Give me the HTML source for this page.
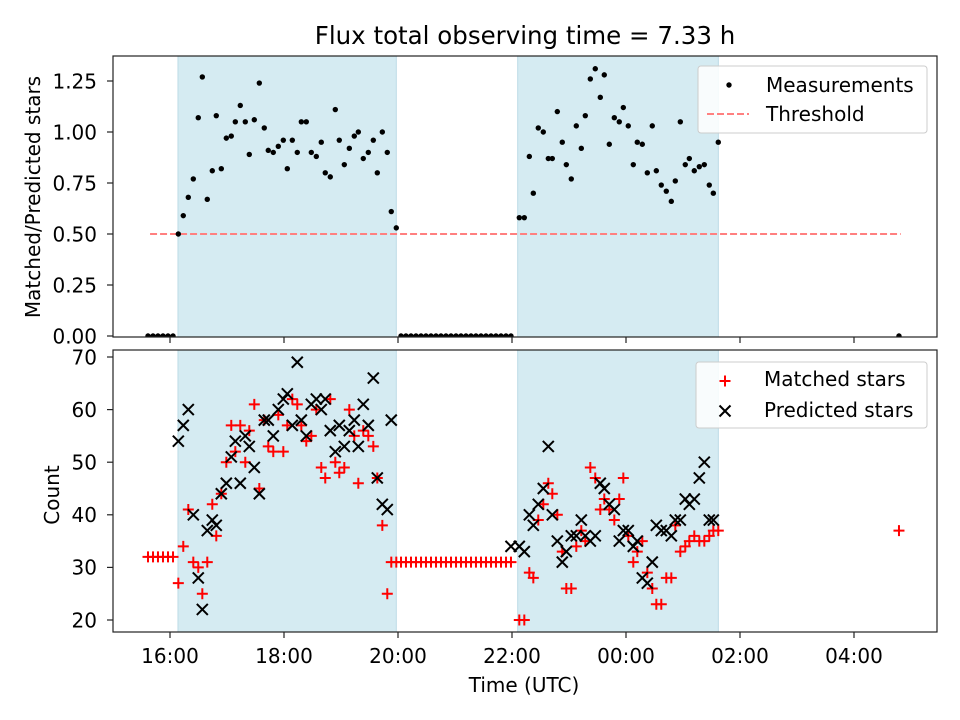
<!DOCTYPE html>
<html><head><meta charset="utf-8"><style>
body{margin:0;background:#fff;}
svg{display:block;font-family:"DejaVu Sans","Liberation Sans",sans-serif;}
</style></head><body>
<svg id="chart" width="960" height="720" viewBox="0 0 960 720" xmlns="http://www.w3.org/2000/svg"></svg>
<script>
// hours after 16:00 UTC
const times = [-0.386,-0.298,-0.211,-0.123,-0.035,0.053,
0.146,0.233,0.321,0.409,0.496,0.567,0.654,0.742,0.812,0.900,0.988,1.075,1.146,1.233,1.321,1.391,1.479,1.567,1.654,1.724,1.812,1.900,1.988,2.058,2.146,2.233,2.304,2.391,2.479,2.567,2.654,2.724,2.812,2.900,2.970,3.058,3.146,3.233,3.304,3.391,3.479,3.567,3.637,3.725,3.812,3.882,3.970,
4.053,4.140,4.228,4.316,4.404,4.491,4.579,4.667,4.754,4.842,4.930,5.018,5.105,5.193,5.281,5.368,5.456,5.544,5.632,5.719,5.807,5.895,5.982,
6.128,6.216,6.304,6.374,6.461,6.549,6.637,6.707,6.795,6.882,6.953,7.040,7.128,7.216,7.286,7.374,7.461,7.549,7.619,7.707,7.795,7.882,7.953,8.040,8.128,8.198,8.286,8.374,8.461,8.532,8.619,8.707,8.795,8.865,8.953,9.040,9.111,9.198,9.286,9.374,9.461,9.532,9.619,
12.789];
const ratio = [0,0,0,0,0,0,
0.50,0.59,0.68,0.77,1.07,1.27,0.67,0.81,1.08,0.82,0.97,0.98,1.05,1.13,1.05,0.89,1.06,1.24,1.02,0.91,0.90,0.93,0.96,0.82,0.96,0.90,1.05,1.05,0.90,0.88,0.95,0.80,0.78,1.11,0.96,0.84,0.92,0.98,1.00,0.87,0.90,0.96,0.80,1.00,0.90,0.61,0.53,
0,0,0,0,0,0,0,0,0,0,0,0,0,0,0,0,0,0,0,0,0,0,0,
0.58,0.58,0.88,0.70,1.02,1.00,0.87,0.87,1.10,0.95,0.84,0.77,1.03,0.92,1.08,1.26,1.31,1.17,1.28,0.94,1.07,1.05,1.12,1.03,0.84,0.95,0.94,0.80,1.03,0.81,0.74,0.71,0.66,0.76,1.05,0.84,0.87,0.81,0.83,0.84,0.74,0.70,0.95,
0];
const matched = [32,32,32,32,32,32,
27,34,41,31,30,25,31,42,36,44,50,57,52,57,50,56,61,45,58,53,52,59,52,57,62,61,57,54,55,60,49,47,62,50,48,49,60,55,46,56,55,53,47,38,25,31,31,
31,31,31,31,31,31,31,31,31,31,31,31,31,31,31,31,31,31,31,31,31,31,31,
20,20,29,28,39,42,46,44,40,33,26,26,34,37,35,49,47,41,43,41,39,43,47,36,31,33,35,29,26,23,23,28,28,38,33,34,35,36,35,35,36,37,37,
37];
const predicted = [null,null,null,null,null,null,
54,57,60,40,28,22,37,39,38,44,46,51,54,46,55,53,49,44,58,58,55,60,62,63,57,69,58,55,61,62,60,62,56,52,57,53,56,58,53,61,57,66,47,42,41,58,null,
null,null,null,null,null,null,null,null,null,null,null,null,null,null,null,null,null,null,null,null,null,null,
34,34,33,40,38,42,45,53,40,35,31,33,36,36,39,36,35,36,46,45,42,41,35,37,37,34,35,28,27,31,38,37,37,36,39,39,43,42,43,47,50,39,39,
null];
const shadeSpans = [[0.14,3.97],[6.1,9.62]];
const threshold = 0.5;
const xTickVals = [0,2,4,6,8,10,12];
const xTickLabels = ["16:00","18:00","20:00","22:00","00:00","02:00","04:00"];
const topTicks = [0,0.25,0.5,0.75,1.0,1.25];
const topTickLabels = ["0.00","0.25","0.50","0.75","1.00","1.25"];
const botTicks = [20,30,40,50,60,70];
const botTickLabels = ["20","30","40","50","60","70"];

const NS="http://www.w3.org/2000/svg";
const svg=document.getElementById('chart');
function mk(tag,attrs,parent){const e=document.createElementNS(NS,tag);for(const k in attrs)e.setAttribute(k,attrs[k]);(parent||svg).appendChild(e);return e;}
const L=113,R=937,FS=20;
const xs=h=>170+57*h;
const P1={t:56,b:337}, P2={t:350,b:632};
const yTop=v=>336-204*v;
const yBot=v=>620-5.26*(v-20);

function panel(P,name){
  const g=mk('g',{});
  
  
  const clip=mk('clipPath',{id:'clip-'+name},g);
  mk('rect',{x:L,y:P.t,width:R-L,height:P.b-P.t},clip);
  shadeSpans.forEach(s=>{
    const r=mk('rect',{x:xs(s[0]),y:P.t,width:xs(s[1])-xs(s[0]),height:P.b-P.t,fill:'#d5ebf2',stroke:'#bcdbe6','stroke-width':1},g);
    
    
  });
  return g;
}
function frame(P,name){
  const f=mk('rect',{x:L,y:P.t,width:R-L,height:P.b-P.t,fill:'none',stroke:'#222','stroke-width':1.2});
  
  
  xTickVals.forEach(v=>mk('line',{x1:xs(v),x2:xs(v),y1:P.b,y2:P.b+6,stroke:'#222','stroke-width':1.2}));
}

// top panel
const g1=panel(P1,'ratio-panel');
const th=mk('line',{x1:xs(-0.35),x2:xs(12.82),y1:yTop(threshold),y2:yTop(threshold),stroke:'#ff8080','stroke-width':2,'stroke-dasharray':'7,3'},g1);


const dots=mk('g',{'clip-path':'url(#clip-ratio-panel)'},g1);
times.forEach((t,i)=>{
  const c=mk('circle',{cx:xs(t),cy:yTop(ratio[i]),r:2.7,fill:'#000'},dots);
  
  
});
frame(P1,'ratio');
topTicks.forEach((v,i)=>{
  mk('line',{x1:L-6,x2:L,y1:yTop(v),y2:yTop(v),stroke:'#222','stroke-width':1.2});
  const t=mk('text',{x:97,y:yTop(v)+7.3,'text-anchor':'end','font-size':FS});
  t.textContent=topTickLabels[i];
  
  
});

// bottom panel
const g2=panel(P2,'count-panel');
const marks=mk('g',{'clip-path':'url(#clip-count-panel)'},g2);
times.forEach((t,i)=>{
  const x=xs(t),y=yBot(matched[i]);
  const p=mk('path',{d:`M${x-5.5} ${y}H${x+5.5}M${x} ${y-5.5}V${y+5.5}`,stroke:'#ff0000','stroke-width':2,fill:'none'},marks);
  
  
});
times.forEach((t,i)=>{
  if(predicted[i]==null)return;
  const x=xs(t),y=yBot(predicted[i]);
  const p=mk('path',{d:`M${x-5.5} ${y-5.5}L${x+5.5} ${y+5.5}M${x-5.5} ${y+5.5}L${x+5.5} ${y-5.5}`,stroke:'#000','stroke-width':2,fill:'none'},marks);
  
  
});
frame(P2,'count');
botTicks.forEach((v,i)=>{
  mk('line',{x1:L-6,x2:L,y1:yBot(v),y2:yBot(v),stroke:'#222','stroke-width':1.2});
  const t=mk('text',{x:97,y:yBot(v)+7.3,'text-anchor':'end','font-size':FS});
  t.textContent=botTickLabels[i];
  
  
});
xTickVals.forEach((v,i)=>{
  const t=mk('text',{x:xs(v),y:663,'text-anchor':'middle','font-size':FS});
  t.textContent=xTickLabels[i];
  
  
});
</script>
<script>
(function(){
const NS="http://www.w3.org/2000/svg";const svg=document.getElementById('chart');
function mk(tag,attrs){const e=document.createElementNS(NS,tag);for(const k in attrs)e.setAttribute(k,attrs[k]);svg.appendChild(e);return e;}
const FS=20;
const title=mk('text',{x:525,y:44,'text-anchor':'middle','font-size':24.5});
title.textContent='Flux total observing time = 7.33 h';


const y1=mk('text',{x:0,y:0,'text-anchor':'middle','font-size':FS,transform:'translate(40,197) rotate(-90)'});
y1.textContent='Matched/Predicted stars';


const y2=mk('text',{x:0,y:0,'text-anchor':'middle','font-size':FS,transform:'translate(59,495) rotate(-90)'});
y2.textContent='Count';


const xt=mk('text',{x:524,y:692,'text-anchor':'middle','font-size':FS});
xt.textContent='Time (UTC)';


const lb1=mk('rect',{x:698,y:66,width:229,height:67,rx:3,fill:'#fff','fill-opacity':0.85,stroke:'#ccc'});


mk('circle',{cx:729,cy:85,r:2.7,fill:'#000'});
const t1=mk('text',{x:766,y:92,'font-size':FS});t1.textContent='Measurements';


mk('line',{x1:707,x2:749,y1:114,y2:114,stroke:'#ff8080','stroke-width':2,'stroke-dasharray':'7,3'});
const t2=mk('text',{x:766,y:121,'font-size':FS});t2.textContent='Threshold';


const lb2=mk('rect',{x:696,y:362,width:231,height:66,rx:3,fill:'#fff','fill-opacity':0.85,stroke:'#ccc'});


mk('path',{d:'M719.5 381H730.5M725 375.5V386.5',stroke:'#f00','stroke-width':2});
const t3=mk('text',{x:764,y:386,'font-size':FS});t3.textContent='Matched stars';


mk('path',{d:'M719.5 405.5L730.5 416.5M719.5 416.5L730.5 405.5',stroke:'#000','stroke-width':2});
const t4=mk('text',{x:764,y:417,'font-size':FS});t4.textContent='Predicted stars';


})();
</script>
</body></html>
